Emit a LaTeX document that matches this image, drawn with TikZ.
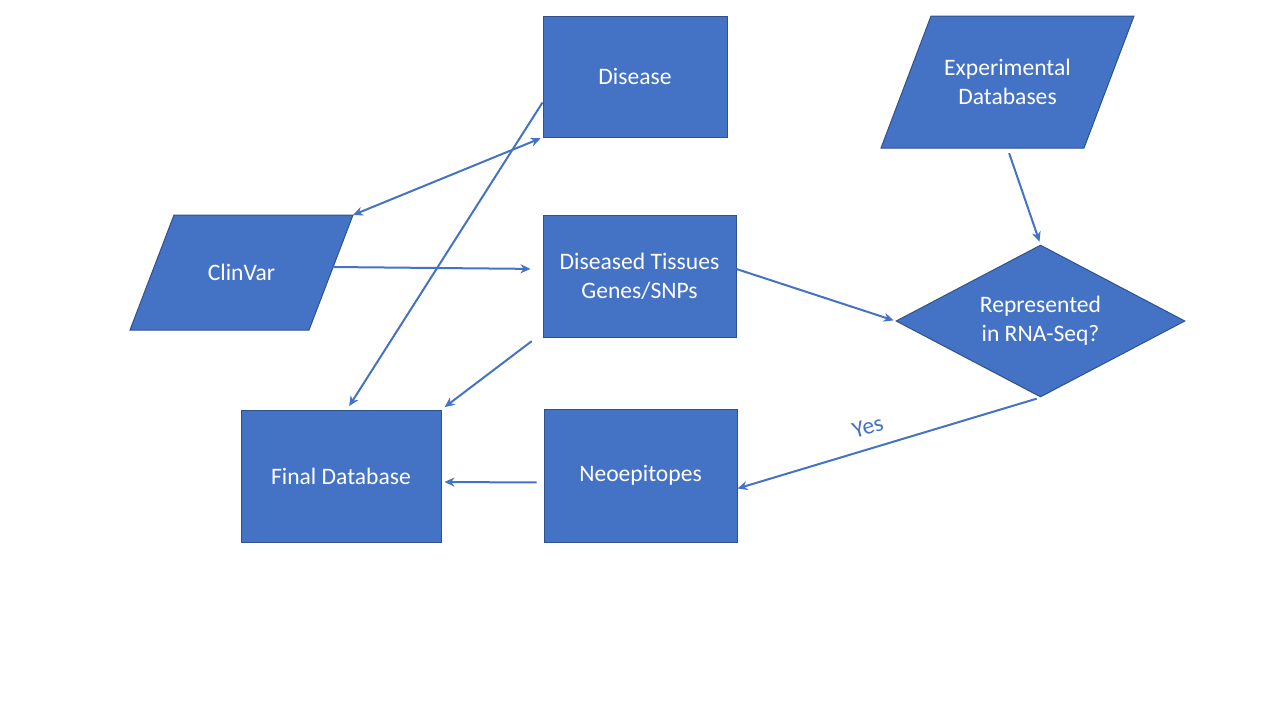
\documentclass[tikz,border=0pt]{standalone}
\usepackage{fontspec}
\setmainfont{Carlito}
\usetikzlibrary{shapes.geometric,arrows.meta}
\definecolor{boxblue}{HTML}{4472C4}
\definecolor{edgeblue}{HTML}{2F528F}
\begin{document}
\begin{tikzpicture}[x=0.5pt,y=-0.5pt,
  shade/.style={draw=edgeblue,line width=0.5pt,fill=boxblue},
  words/.style={text=white,align=center,inner sep=0pt,font=\fontsize{11.8}{14.5}\selectfont},
  box/.style={shade,words},
  decision/.style={box,diamond,shape aspect=1.9},
  link/.style={draw=boxblue,line width=1pt,-{Stealth[length=5pt,width=4.5pt]}}]
\useasboundingbox (0,0) rectangle (1280,720);
% slanted input shapes
\draw[shade] (931,16) -- (1134,16) -- (1084,148) -- (881,148) -- cycle;
\draw[shade] (174,215) -- (353,215) -- (309,330) -- (130,330) -- cycle;
\coordinate (clinvar corner) at (353,215);
\node[words,minimum width=100pt,minimum height=66pt] (exper) at (1007.5,82) {Experimental\\Databases};
\node[words,minimum width=91.5pt,minimum height=57.5pt] (clinvar) at (241.5,272.5) {ClinVar};
% boxes
\node[box,minimum width=92pt,minimum height=60.5pt] (disease) at (635,76.5) {Disease};
\node[box,minimum width=96.5pt,minimum height=61pt] (tissues) at (639.5,276) {Diseased Tissues\\Genes/SNPs};
\node[decision,minimum width=144.5pt,minimum height=76pt] (rna) at (1040.5,321) {Represented\\in RNA-Seq?};
\node[box,minimum width=100pt,minimum height=66pt] (final) at (341,476) {Final Database};
\node[box,minimum width=96.5pt,minimum height=66.5pt] (neo) at (640.5,475.5) {Neoepitopes};
% connectors
\draw[link,{Stealth[length=5pt,width=4.5pt]}-{Stealth[length=5pt,width=4.5pt]},shorten <=1pt] (disease.south west) -- (clinvar corner);
\draw[link,shorten >=2pt] ([yshift=-13pt]disease.west) -- ([xshift=3pt]final.north);
\draw[link,shorten >=6pt] ([yshift=2.75pt]clinvar.east) -- ([yshift=3.5pt]tissues.west);
\draw[link,shorten <=3pt,shorten >=2pt] ([xshift=-3pt]tissues.south west) -- (final.north east);
\draw[link,shorten >=1pt] ([yshift=3.5pt]tissues.east) -- (rna.west);
\draw[link,shorten <=2.5pt,shorten >=1.5pt] (exper.south) -- (rna.north);
\draw[link,shorten <=2pt] (rna.south) -- node[pos=0.55,above=3pt,sloped,text=boxblue,font=\fontsize{11.8}{14.5}\selectfont] {Yes} ([yshift=-6.5pt]neo.east);
\draw[link,shorten <=3.5pt,shorten >=1.5pt] ([yshift=-3.5pt]neo.west) -- ([yshift=-3pt]final.east);
\end{tikzpicture}
\end{document}
